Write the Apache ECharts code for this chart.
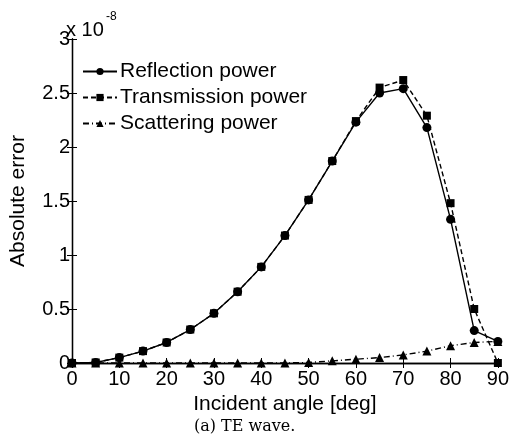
<!DOCTYPE html>
<html><head><meta charset="utf-8">
<script src="https://cdn.jsdelivr.net/npm/echarts@6/dist/echarts.min.js"></script>
<style>html,body{margin:0;padding:0;background:#fff}#c{width:512px;height:441px}</style>
</head><body><div id="c"></div>
<script>
const angles = [0,5,10,15,20,25,30,35,40,45,50,55,60,65,70,75,80,85,90];
const reflection = [0,0.005,0.05,0.11,0.19,0.31,0.46,0.66,0.89,1.18,1.51,1.87,2.23,2.50,2.54,2.18,1.33,0.30,0.20];
const transmission = [0,0.005,0.05,0.11,0.19,0.31,0.46,0.66,0.89,1.18,1.51,1.87,2.24,2.55,2.62,2.29,1.48,0.50,0];
const scattering = [0,0,0,0,0,0,0,0,0,0,0.005,0.02,0.035,0.05,0.075,0.11,0.16,0.19,0.20];
const yTicks = ['0','0.5','1','1.5','2','2.5','3'];
const names = ['Reflection power','Transmission power','Scattering power'];

const F = 'Liberation Sans';
const chart = echarts.init(document.getElementById('c'));
const pair = a => a.map((v,i)=>[angles[i], v]);
const tickStyle = {show:true, inside:true, length:5, lineStyle:{color:'#000'}};
chart.setOption({
  animation:false,
  backgroundColor:'#fff',
  grid:{left:67, right:11, top:39, bottom:78},
  legend:{
    left:82, top:61, padding:0, orient:'vertical', itemGap:5, itemWidth:34, itemHeight:9,
    textStyle:{fontFamily:F, fontSize:21, lineHeight:21, color:'#000', padding:[0,0,0,-2]},
    data:names
  },
  xAxis:[{
    type:'value', min:0, max:90, interval:10,
    axisLine:{lineStyle:{color:'#000', width:1.3}},
    axisTick:tickStyle, splitLine:{show:false},
    axisLabel:{fontFamily:F, fontSize:20, color:'#000', margin:6},
    name:'Incident angle [deg]', nameLocation:'middle', nameGap:17,
    nameTextStyle:{fontFamily:F, fontSize:21, color:'#000'}
  },{
    type:'value', min:0, max:90, interval:10, position:'top',
    axisLine:{lineStyle:{color:'#000', width:1.3}},
    axisTick:tickStyle, axisLabel:{show:false}, splitLine:{show:false}
  }],
  yAxis:[{
    type:'value', min:0, max:3, interval:0.5,
    axisLine:{show:true, lineStyle:{color:'#000', width:1.3}},
    axisTick:tickStyle, splitLine:{show:false},
    axisLabel:{fontFamily:F, fontSize:20, color:'#000', margin:2,
      formatter:(v)=>yTicks[Math.round(v*2)]},
    name:'Absolute error', nameLocation:'middle', nameGap:43,
    nameTextStyle:{fontFamily:F, fontSize:21, color:'#000'}
  },{
    type:'value', min:0, max:3, interval:0.5, position:'right',
    axisLine:{show:true, lineStyle:{color:'#000', width:1.3}},
    axisTick:tickStyle, axisLabel:{show:false}, splitLine:{show:false}
  }],
  series:[
    {name:names[0], type:'line', data:pair(reflection), symbol:'circle', symbolSize:9,
     itemStyle:{color:'#000'}, lineStyle:{color:'#000', width:1.4, type:'solid'}, z:3},
    {name:names[1], type:'line', data:pair(transmission), symbol:'rect', symbolSize:8,
     itemStyle:{color:'#000'}, lineStyle:{color:'#000', width:1.4, type:[5,3]}, z:2},
    {name:names[2], type:'line', data:pair(scattering), symbol:'triangle', symbolSize:9,
     itemStyle:{color:'#000'}, lineStyle:{color:'#000', width:1.4, type:[6,3,1,3]}, z:2}
  ],
  graphic:[
    {type:'text', left:66, top:20, style:{text:'x 10', fontFamily:F, fontSize:20, fill:'#000'}},
    {type:'text', left:106, top:11, style:{text:'-8', fontFamily:F, fontSize:12, fill:'#000'}},
    {type:'text', left:194, top:419, style:{text:'(a) TE wave.', fontFamily:'DejaVu Serif', fontSize:16, fill:'#000'}}
  ]
});
</script></body></html>
